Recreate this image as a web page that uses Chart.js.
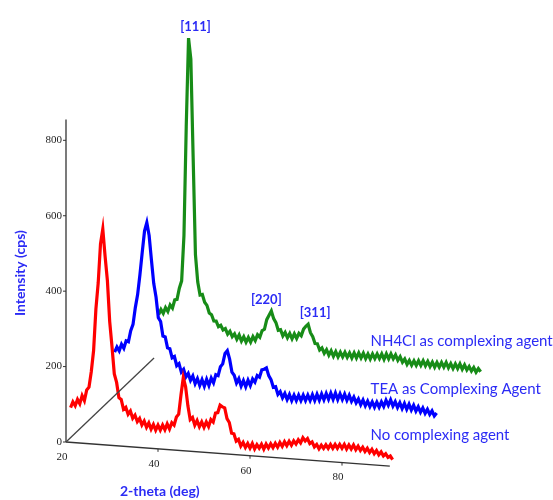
<!DOCTYPE html>
<html>
<head>
<meta charset="utf-8">
<script src="https://cdn.jsdelivr.net/npm/chart.js@4"></script>
<style>
  html, body { margin: 0; padding: 0; background: #fff; }
  #wrap { width: 553px; height: 500px; position: relative; }
</style>
</head>
<body>
<div id="wrap"><canvas id="grafico"></canvas></div>
<script>
// 2-theta scan grid (deg), 0.5 deg step from 21 to 91
const doisTheta = Array.from({ length: 141 }, (_, i) => 21 + i * 0.5);

// intensities (cps)
const semAgente = [
  92, 108, 98, 115, 104, 126, 113, 142, 150, 192,
  248, 358, 428, 532, 572, 500, 436, 328, 262, 190,
  168, 128, 124, 98, 104, 86, 95, 76, 85, 68,
  77, 60, 71, 55, 67, 51, 64, 49, 63, 50,
  64, 52, 68, 55, 72, 66, 88, 96, 148, 194,
  170, 120, 84, 90, 70, 83, 67, 80, 66, 81,
  69, 88, 82, 106, 108, 128, 124, 122, 94, 84,
  56, 55, 36, 41, 24, 34, 21, 32, 20, 33,
  19, 31, 22, 33, 20, 34, 24, 36, 26, 38,
  28, 41, 31, 44, 34, 46, 36, 48, 40, 52,
  44, 58, 50, 57, 44, 49, 36, 43, 32, 42,
  34, 44, 35, 46, 36, 47, 37, 48, 38, 49,
  37, 48, 38, 49, 37, 47, 36, 45, 34, 43,
  32, 41, 30, 39, 28, 36, 26, 32, 23, 27,
  18
];
const agenteTEA = [
  128, 142, 132, 150, 140, 160, 158, 188, 205, 250,
  285, 338, 398, 455, 478, 444, 380, 318, 282, 228,
  218, 180, 178, 150, 148, 124, 128, 104, 110, 88,
  96, 76, 86, 68, 80, 60, 74, 56, 72, 55,
  74, 58, 78, 66, 88, 86, 110, 118, 146, 154,
  132, 98, 90, 70, 82, 63, 78, 62, 80, 66,
  84, 76, 94, 90, 110, 112, 116, 96, 86, 66,
  68, 48, 56, 40, 52, 36, 50, 34, 49, 35,
  50, 36, 51, 37, 52, 38, 54, 39, 56, 41,
  58, 43, 60, 45, 62, 46, 63, 46, 62, 47,
  62, 46, 60, 44, 56, 41, 52, 37, 50, 35,
  48, 34, 47, 33, 47, 34, 49, 37, 54, 41,
  56, 40, 52, 37, 50, 35, 49, 34, 48, 33,
  46, 31, 43, 29, 41, 27, 38, 25, 35, 22,
  30
];
const agenteNH4Cl = [
  116, 130, 120, 136, 126, 144, 136, 158, 160, 190,
  210, 330, 620, 855, 800, 540, 282, 210, 176, 178,
  158, 150, 130, 126, 110, 110, 96, 100, 88, 92,
  78, 86, 72, 80, 66, 78, 62, 74, 60, 73,
  61, 76, 66, 82, 76, 94, 98, 124, 136, 148,
  128, 118, 98, 100, 84, 94, 80, 92, 78, 92,
  80, 94, 88, 106, 114, 120, 98, 88, 70, 70,
  54, 60, 46, 56, 42, 54, 40, 53, 39, 52,
  40, 53, 40, 52, 39, 53, 40, 54, 41, 54,
  40, 53, 40, 54, 42, 55, 43, 56, 42, 57,
  44, 58, 45, 56, 42, 52, 38, 47, 33, 44,
  32, 44, 32, 45, 33, 46, 33, 45, 32, 44,
  31, 44, 32, 45, 33, 46, 32, 44, 31, 44,
  32, 45, 31, 43, 30, 40, 28, 38, 26, 36,
  28
];

const nomesSeries = ['No complexing agent', 'TEA as Complexing Agent', 'NH4Cl as complexing agent'];
const picos = [
  { rotulo: '[111]', theta: 27.5, intensidade: 855 },
  { rotulo: '[220]', theta: 45.5, intensidade: 148 },
  { rotulo: '[311]', theta: 53.5, intensidade: 120 }
];
const ticksX = [20, 40, 60, 80];
const ticksY = [0, 200, 400, 600, 800];

// pseudo 3D: every row is shifted back along a depth axis, baseline tilts down
const DEPTH_DX = 9.57;   // deg per row
const DEPTH_DY = 111.4;  // cps per row
const SKEW = 0.91;       // cps drop per deg along the 2-theta axis
const X_END = 90.4;
const Y_TOP = 855;

function projetar(theta, valor, linha) {
    return { x: theta + linha * DEPTH_DX, y: valor - SKEW * (theta - 20) + linha * DEPTH_DY };
}
const serie = (valores, linha) => doisTheta.map((t, i) => projetar(t, valores[i], linha));

const azul = '#2b2bf5';

const eixos3d = {
    id: 'eixos3d',
    afterDatasetsDraw(chart) {
        const { ctx, scales: { x, y } } = chart;
        const px = p => [x.getPixelForValue(p.x), y.getPixelForValue(p.y)];
        ctx.save();
        ctx.strokeStyle = '#333';
        ctx.lineWidth = 1.3;

        // intensity axis
        let a = px(projetar(20, 0, 0)), b = px({ x: 20, y: Y_TOP });
        ctx.beginPath(); ctx.moveTo(a[0], a[1]); ctx.lineTo(b[0], b[1]); ctx.stroke();
        // 2-theta axis
        b = px(projetar(X_END, 0, 0));
        ctx.beginPath(); ctx.moveTo(a[0], a[1]); ctx.lineTo(b[0], b[1]); ctx.stroke();
        // depth axis
        b = px(projetar(20, 0, 2));
        ctx.strokeStyle = '#444';
        ctx.beginPath(); ctx.moveTo(a[0], a[1]); ctx.lineTo(b[0], b[1]); ctx.stroke();

        ctx.fillStyle = '#222';
        ctx.strokeStyle = '#333';
        ctx.lineWidth = 1;
        ctx.font = '11px "Liberation Serif"';
        ctx.textAlign = 'right';
        ctx.textBaseline = 'middle';
        ticksY.forEach(v => {
            const [tx, ty] = px({ x: 20, y: v });
            ctx.beginPath(); ctx.moveTo(tx - 3, ty); ctx.lineTo(tx, ty); ctx.stroke();
            ctx.fillText(String(v), tx - 4, ty);
        });
        ctx.textAlign = 'center';
        ticksX.forEach(v => {
            const [tx, ty] = px(projetar(v, 0, 0));
            if (v > 20) { ctx.beginPath(); ctx.moveTo(tx, ty); ctx.lineTo(tx, ty + 3); ctx.stroke(); }
            ctx.fillText(String(v), tx - 4, ty + 15);
        });

        // axis titles
        ctx.fillStyle = azul;
        ctx.font = 'bold 14px Lato';
        let [cx, cy] = px({ x: 40.4, y: -130 });
        ctx.fillText('2-theta (deg)', cx, cy);
        [cx, cy] = px({ x: 10, y: 448 });
        ctx.save();
        ctx.translate(cx, cy);
        ctx.rotate(-Math.PI / 2);
        ctx.fillText('Intensity (cps)', 0, 0);
        ctx.restore();

        // peak labels over the NH4Cl row
        ctx.font = 'bold 13px Lato';
        ctx.textBaseline = 'bottom';
        picos.forEach((p, i) => {
            const [lx, ly] = px(projetar(p.theta, p.intensidade, 2));
            ctx.fillText(p.rotulo, lx + (i === 0 ? 7 : i === 1 ? -5 : 7), ly - 5);
        });

        // row names at the right end
        ctx.font = '15px Lato';
        ctx.textAlign = 'left';
        ctx.textBaseline = 'middle';
        const alturas = [18.6, 140.5, 267.8];
        nomesSeries.forEach((nome, i) => {
            const [lx, ly] = px({ x: 86.2, y: alturas[i] });
            ctx.fillText(nome, lx, ly);
        });
        ctx.restore();
    }
};

new Chart(document.getElementById('grafico'), {
    type: 'line',
    data: {
        datasets: [
            { label: nomesSeries[0], data: serie(semAgente, 0), borderColor: '#ff0000' },
            { label: nomesSeries[1], data: serie(agenteTEA, 1), borderColor: '#0000ff' },
            { label: nomesSeries[2], data: serie(agenteNH4Cl, 2), borderColor: '#178c17' }
        ]
    },
    options: {
        responsive: true,
        maintainAspectRatio: false,
        animation: false,
        layout: { padding: 0 },
        elements: {
            line: { borderWidth: 3.2, tension: 0, fill: false },
            point: { radius: 0 }
        },
        plugins: { legend: { display: false }, tooltip: { enabled: false } },
        scales: {
            x: { type: 'linear', display: false, min: 20 - 66 / 4.6, max: 20 - 66 / 4.6 + 553 / 4.6 },
            y: { type: 'linear', display: false, min: -58 / 0.3771, max: 442 / 0.3771 }
        }
    },
    plugins: [eixos3d]
});
</script>
</body>
</html>
